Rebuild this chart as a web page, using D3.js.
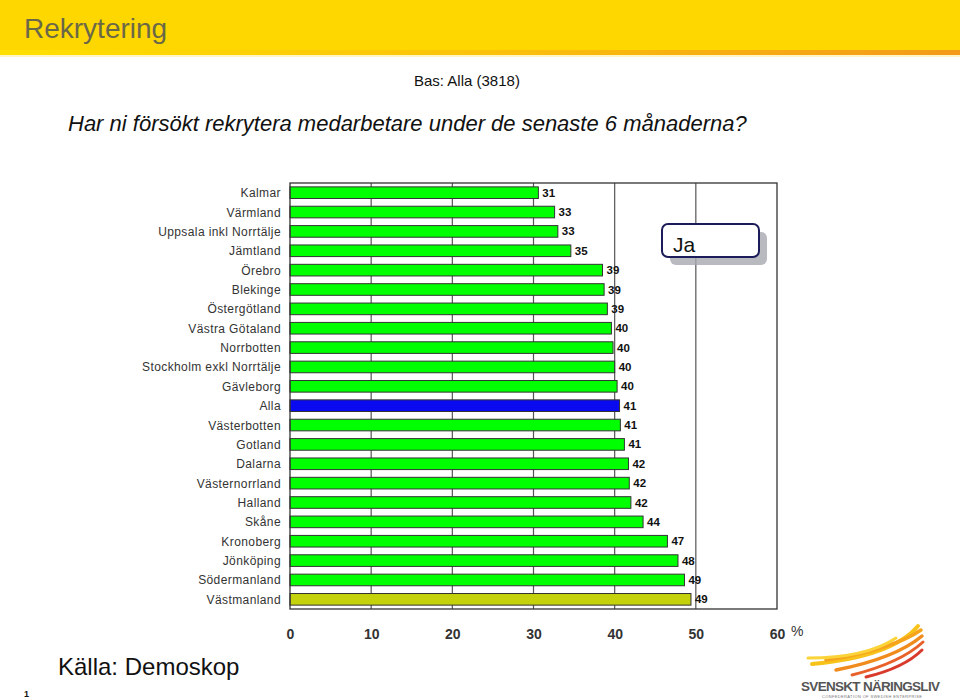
<!DOCTYPE html>
<html>
<head>
<meta charset="utf-8">
<script src="https://cdn.jsdelivr.net/npm/d3@7"></script>
<style>
  body { margin: 0; background: #fff; }
  svg { display: block; font-family: Arial, "Liberation Sans", sans-serif; }
</style>
</head>
<body>
<div id="chart"></div>
<script>
var regions = ["Kalmar", "Värmland", "Uppsala inkl Norrtälje", "Jämtland", "Örebro", "Blekinge",
  "Östergötland", "Västra Götaland", "Norrbotten", "Stockholm exkl Norrtälje", "Gävleborg", "Alla",
  "Västerbotten", "Gotland", "Dalarna", "Västernorrland", "Halland", "Skåne", "Kronoberg",
  "Jönköping", "Södermanland", "Västmanland"];
var jaValues = [30.6, 32.6, 33.0, 34.6, 38.5, 38.7, 39.1, 39.6, 39.8, 40.0, 40.3, 40.6,
  40.7, 41.2, 41.7, 41.8, 42.0, 43.5, 46.5, 47.8, 48.6, 49.4];
var xTicks = [0, 10, 20, 30, 40, 50, 60];

var W = 960, H = 699;
var svg = d3.select("#chart").append("svg")
  .attr("width", W)
  .attr("height", H);

var defs = svg.append("defs");
var sg = defs.append("linearGradient").attr("id", "strip").attr("x1", 0).attr("x2", 1);
sg.append("stop").attr("offset", "0%").attr("stop-color", "#ffe000");
sg.append("stop").attr("offset", "50%").attr("stop-color", "#fbc20a");
sg.append("stop").attr("offset", "100%").attr("stop-color", "#f39a1a");

// header band
svg.append("rect").attr("x", 0).attr("y", 0).attr("width", W).attr("height", 52).attr("fill", "#ffd700");
svg.append("rect").attr("x", 0).attr("y", 50).attr("width", W).attr("height", 5).attr("fill", "url(#strip)");
svg.append("rect").attr("x", 0).attr("y", 55).attr("width", W).attr("height", 2).attr("fill", "#fff6c8");
svg.append("text").attr("x", 24).attr("y", 38)
  .attr("font-size", 28).attr("fill", "#6b6848")
  .text("Rekrytering");

svg.append("text").attr("x", 414).attr("y", 86)
  .attr("font-size", 15).attr("fill", "#111")
  .text("Bas: Alla (3818)");

svg.append("text").attr("x", 68).attr("y", 131)
  .attr("font-size", 22).attr("font-style", "italic").attr("fill", "#111")
  .text("Har ni försökt rekrytera medarbetare under de senaste 6 månaderna?");

// plot
var margin = { top: 183, left: 290 },
  width = 487,
  height = 426;

var x = d3.scaleLinear().domain([0, 60]).range([0, width]);
var y = d3.scaleBand().domain(regions).range([0, height]).paddingInner(0.4).paddingOuter(0.2);

var g = svg.append("g")
  .attr("transform", "translate(" + margin.left + "," + margin.top + ")");

// gridlines
g.append("g")
  .selectAll("line")
  .data(xTicks.slice(1, -1))
  .enter().append("line")
  .attr("x1", function(d) { return x(d); })
  .attr("x2", function(d) { return x(d); })
  .attr("y1", 0)
  .attr("y2", height)
  .attr("stroke", "#555")
  .attr("stroke-width", 1.2);

// legend box
var lg = g.append("g").attr("transform", "translate(372,41)");
lg.append("rect").attr("x", 8).attr("y", 8).attr("width", 97).attr("height", 33).attr("rx", 6)
  .attr("fill", "#a8a8b0").attr("opacity", 0.8);
lg.append("rect").attr("x", 0).attr("y", 0).attr("width", 97).attr("height", 33).attr("rx", 6)
  .attr("fill", "#fff").attr("stroke", "#1c1c5a").attr("stroke-width", 2);
lg.append("text").attr("x", 11).attr("y", 28).attr("font-size", 21).attr("fill", "#111").text("Ja");

// bars
g.append("g")
  .selectAll("rect")
  .data(regions)
  .enter().append("rect")
  .attr("x", 0)
  .attr("y", function(d) { return y(d); })
  .attr("width", function(d, i) { return x(jaValues[i]); })
  .attr("height", y.bandwidth())
  .attr("fill", function(d) {
    if (d === "Alla") return "#0a0af0";
    if (d === "Västmanland") return "#c4d20c";
    return "#00ff00";
  })
  .attr("stroke", "#333")
  .attr("stroke-width", 1);

// value labels
g.append("g")
  .selectAll("text")
  .data(regions)
  .enter().append("text")
  .attr("x", function(d, i) { return x(jaValues[i]) + 4; })
  .attr("y", function(d) { return y(d) + y.bandwidth() / 2 + 4; })
  .attr("font-size", 11.5)
  .attr("font-weight", "bold")
  .attr("fill", "#111")
  .text(function(d, i) { return Math.round(jaValues[i]); });

// category labels
g.append("g")
  .selectAll("text")
  .data(regions)
  .enter().append("text")
  .attr("x", -9)
  .attr("y", function(d) { return y(d) + y.bandwidth() / 2 + 4.5; })
  .attr("text-anchor", "end")
  .attr("font-size", 12)
  .attr("letter-spacing", 0.4)
  .attr("fill", "#333")
  .text(function(d) { return d; });

// frame
g.append("rect").attr("x", 0).attr("y", 0).attr("width", width).attr("height", height)
  .attr("fill", "none").attr("stroke", "#333").attr("stroke-width", 1.3);

// x axis labels
var xAxis = d3.axisBottom(x).tickValues(xTicks).tickSize(0).tickPadding(20);
var ax = g.append("g")
  .attr("transform", "translate(0," + height + ")")
  .call(xAxis);
ax.select(".domain").remove();
ax.selectAll("text")
  .attr("font-size", 14)
  .attr("font-weight", "bold")
  .attr("fill", "#333")
  .attr("font-family", "Arial, 'Liberation Sans', sans-serif");

svg.append("text").attr("x", 791).attr("y", 636).attr("font-size", 14).attr("fill", "#333").text("%");

// footer
svg.append("text").attr("x", 58).attr("y", 675).attr("font-size", 24).attr("fill", "#111").text("Källa: Demoskop");
svg.append("text").attr("x", 24).attr("y", 697).attr("font-size", 9).attr("font-weight", "bold").attr("fill", "#111").text("1");

// logo
var logo = svg.append("g");
var wings = [
  ["M812,664 C855,660 898,650 918,626", "#f7c21a", 4],
  ["M826,660 C868,654 904,642 921,630", "#f5a41c", 3.5],
  ["M836,670 C872,663 904,651 922,636", "#f08b1e", 3.5],
  ["M852,675 C884,667 909,655 923,642", "#e8612a", 3],
  ["M866,677 C891,671 911,661 922,650", "#d83a2c", 3],
  ["M808,658 C848,658 878,650 896,638", "#fbd43a", 3]
];
logo.selectAll("path")
  .data(wings)
  .enter().append("path")
  .attr("d", function(d) { return d[0]; })
  .attr("stroke", function(d) { return d[1]; })
  .attr("stroke-width", function(d) { return d[2]; })
  .attr("fill", "none")
  .attr("stroke-linecap", "round");
logo.append("text").attr("x", 801).attr("y", 691).attr("font-size", 13.5).attr("font-weight", "bold")
  .attr("fill", "#555").attr("textLength", 139).text("SVENSKT NÄRINGSLIV");
logo.append("text").attr("x", 822).attr("y", 698).attr("font-size", 4).attr("fill", "#777")
  .attr("textLength", 100).text("CONFEDERATION OF SWEDISH ENTERPRISE");
</script>
</body>
</html>
